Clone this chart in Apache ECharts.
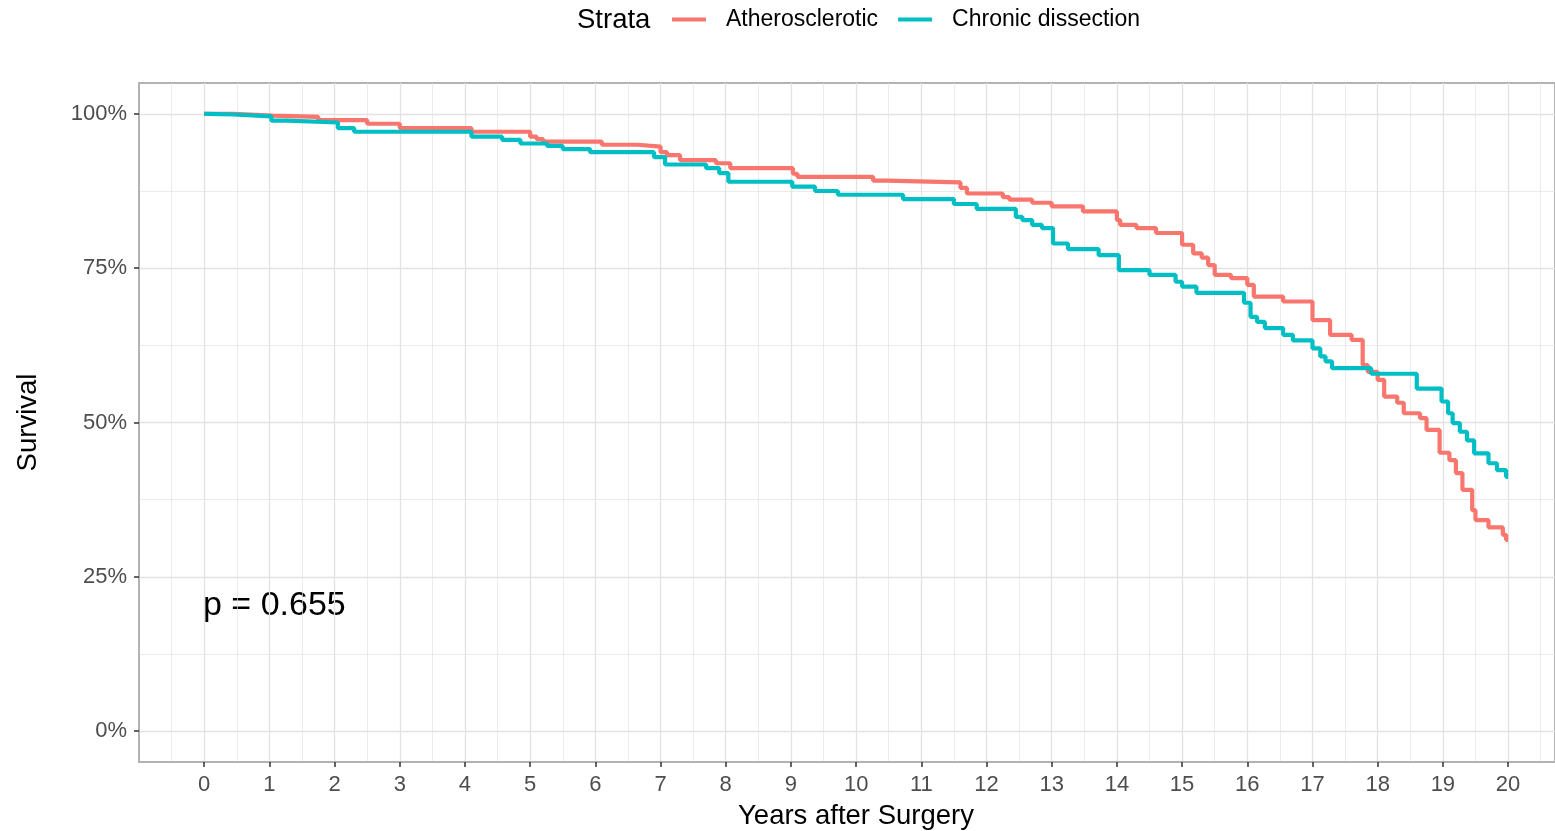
<!DOCTYPE html>
<html>
<head>
<meta charset="utf-8">
<script src="https://cdn.jsdelivr.net/npm/echarts@6/dist/echarts.min.js"></script>
<style>
html,body{margin:0;padding:0;background:#fff;}
#c{width:1555px;height:831px;}
</style>
</head>
<body>
<div id="c"></div>
<script>
const seriesNames = ['Atherosclerotic', 'Chronic dissection'];
const athTime = [0,0.45,1.05,1.75,2.5,3.0,4.1,5.0,5.1,5.2,6.1,6.65,7.0,7.1,7.3,7.85,8.07,9.03,9.1,10.26,10.47,11.6,11.7,12.25,12.35,12.7,13.0,13.48,14.0,14.05,14.3,14.6,15.0,15.17,15.3,15.4,15.5,15.75,16.0,16.1,16.55,17.0,17.27,17.6,17.77,17.85,18.0,18.1,18.3,18.4,18.65,18.75,18.95,19.1,19.2,19.3,19.45,19.5,19.7,19.92,19.97,20.0];
const athSurv = [100,99.7,99.5,99.0,98.4,97.7,97.1,96.3,95.9,95.5,95.0,94.7,93.8,93.3,92.5,92.0,91.2,90.3,89.8,89.2,88.9,88.0,87.1,86.5,86.1,85.6,85.0,84.2,82.8,82.0,81.5,80.7,78.8,77.4,76.7,75.5,73.9,73.4,72.3,70.4,69.6,66.6,64.2,63.4,59.3,58.2,56.9,54.2,53.2,51.5,50.7,48.8,45.1,43.9,41.8,39.1,35.8,34.2,33.0,31.8,31.0,31.0];
const chrTime = [0,0.05,0.45,1.03,1.27,2.05,2.3,4.1,4.57,4.85,5.26,5.5,5.92,6.9,7.07,7.7,7.9,8.04,9.02,9.37,9.72,10.72,11.5,11.85,12.45,12.55,12.7,12.85,13.02,13.25,13.72,14.03,14.5,14.9,15.0,15.22,15.95,16.05,16.15,16.27,16.55,16.7,17.0,17.12,17.2,17.3,17.9,18.6,18.98,19.08,19.15,19.26,19.37,19.48,19.7,19.83,19.97,20.0];
const chrSurv = [100,99.9,99.6,98.9,98.6,97.7,97.1,96.3,95.8,95.2,94.8,94.3,93.8,93.0,91.8,91.2,90.4,89.0,88.2,87.5,86.9,86.2,85.4,84.6,83.3,82.8,82.0,81.5,79.0,78.1,77.1,74.7,73.9,72.8,72.0,71.0,69.4,67.1,66.3,65.3,64.2,63.3,62.0,60.7,59.9,58.8,57.9,55.5,53.4,51.5,49.9,48.5,47.1,45.0,43.4,42.3,41.2,41.2];
const xTicks = [0,1,2,3,4,5,6,7,8,9,10,11,12,13,14,15,16,17,18,19,20];
const xMinorTicks = [-0.5,0.5,1.5,2.5,3.5,4.5,5.5,6.5,7.5,8.5,9.5,10.5,11.5,12.5,13.5,14.5,15.5,16.5,17.5,18.5,19.5,20.5];
const yTicks = [0,25,50,75,100];
const yMinorTicks = [12.5,37.5,62.5,87.5];
const pText = 'p = 0.655';
const legendTitle = 'Strata';
const xTitle = 'Years after Surgery';
const yTitle = 'Survival';

const athData = athTime.map((t,i)=>[t, athSurv[i]]);
const chrData = chrTime.map((t,i)=>[t, chrSurv[i]]);

const FONT = '"Liberation Sans", Arial, sans-serif';
const gridCol = '#E2E2E2';
const borderCol = '#B3B3B3';
const chart = echarts.init(document.getElementById('c'), null, {renderer:'canvas'});
chart.setOption({
  animation:false,
  backgroundColor:'#fff',
  textStyle:{fontFamily:FONT},
  title:{text:legendTitle, left:572, top:1, textStyle:{fontFamily:FONT,fontSize:27.5,fontWeight:'normal',color:'#000'}},
  legend:{
    data:seriesNames, left:667, top:3, icon:'rect', itemWidth:34, itemHeight:4, itemGap:20,
    textStyle:{fontFamily:FONT,fontSize:23,color:'#000',padding:[0,0,0,15]}
  },
  grid:{left:139, top:83, right:0, bottom:69, show:true, borderColor:borderCol, borderWidth:2, backgroundColor:'#fff', outerBoundsMode:'none', containLabel:false},
  xAxis:[
    {type:'value', min:-1, max:20.72, name:xTitle, nameLocation:'middle', nameGap:40,
     nameTextStyle:{fontFamily:FONT,fontSize:27.5,color:'#000',padding:[0,0,0,18]},
     axisLine:{show:true, onZero:false, lineStyle:{color:borderCol,width:2}},
     axisTick:{show:true, length:5, lineStyle:{color:'#333',width:1.5}, customValues:xTicks},
     axisLabel:{customValues:xTicks, fontFamily:FONT, fontSize:22, color:'#4D4D4D', margin:12},
     splitLine:{show:true, lineStyle:{color:gridCol,width:1.3}}},
    {type:'value', min:-1, max:20.72, show:true, axisLine:{show:false, onZero:false}, axisLabel:{show:false},
     axisTick:{show:false, customValues:xMinorTicks},
     splitLine:{show:true, lineStyle:{color:gridCol,width:0.7}}}
  ],
  yAxis:[
    {type:'value', min:-5, max:105, name:yTitle, nameLocation:'middle', nameGap:97,
     nameTextStyle:{fontFamily:FONT,fontSize:27.5,color:'#000'},
     axisLine:{show:true, onZero:false, lineStyle:{color:borderCol,width:2}},
     axisTick:{show:true, length:5, lineStyle:{color:'#333',width:1.5}, customValues:yTicks},
     axisLabel:{customValues:yTicks, formatter:v=>v+'%', fontFamily:FONT, fontSize:22, color:'#4D4D4D', margin:12},
     splitLine:{show:true, lineStyle:{color:gridCol,width:1.3}}},
    {type:'value', min:-5, max:105, show:true, axisLine:{show:false, onZero:false}, axisLabel:{show:false},
     axisTick:{show:false, customValues:yMinorTicks},
     splitLine:{show:true, lineStyle:{color:gridCol,width:0.7}}}
  ],
  series:[
    {name:seriesNames[0], type:'line', step:'end', data:athData, showSymbol:false, symbol:'none',
     lineStyle:{color:'#F8766D', width:4.2}, itemStyle:{color:'#F8766D'}, z:3},
    {name:seriesNames[1], type:'line', step:'end', data:chrData, showSymbol:false, symbol:'none',
     lineStyle:{color:'#00BFC4', width:4.2}, itemStyle:{color:'#00BFC4'}, z:4}
  ],
  graphic:[
    {type:'text', left:203, top:589, style:{text:pText, font:'34px "Liberation Sans", Arial, sans-serif', fill:'#000'}}
  ]
});
</script>
</body>
</html>
